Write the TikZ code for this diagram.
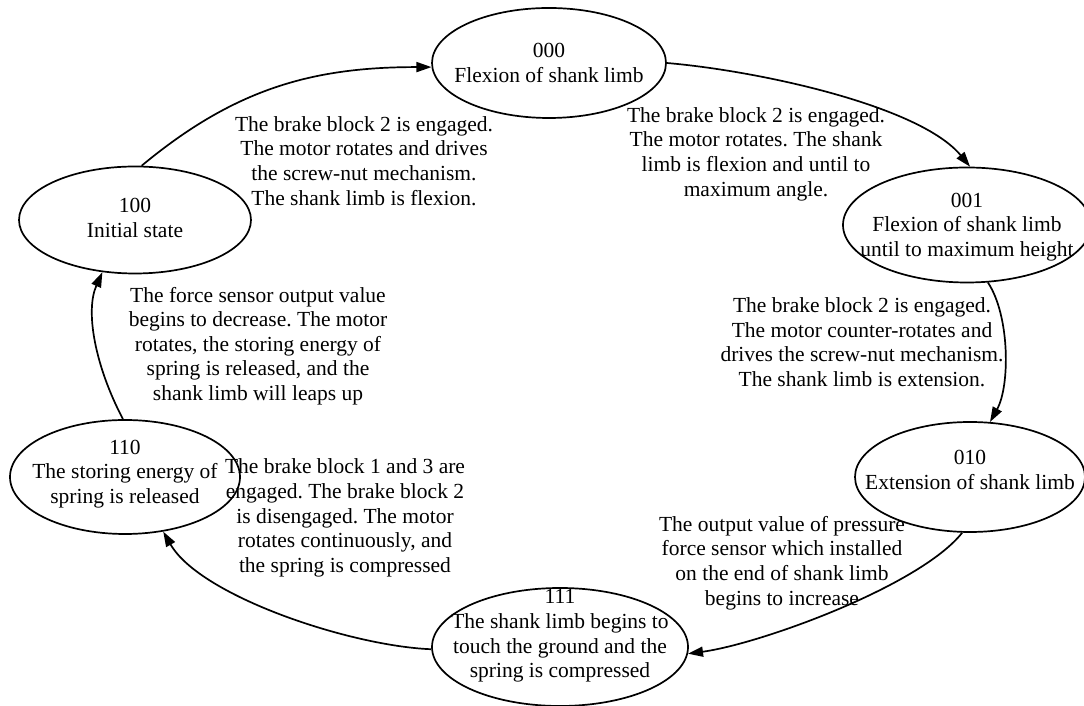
\documentclass[tikz,border=0pt]{standalone}
\usepackage{fontspec}
\setmainfont{Liberation Serif}
\usetikzlibrary{arrows.meta,shapes.geometric}
\begin{document}
\frenchspacing
\begin{tikzpicture}[x=1pt,y=1pt,
  state/.style={draw,ellipse,line width=1.7pt,inner sep=0pt},
  txt/.style={align=center,inner sep=0pt,font=\fontsize{21.5}{24.6}\selectfont},
  edge/.style={line width=1.7pt,-{Triangle[length=15pt,width=10pt]}}]
\useasboundingbox (0,0) rectangle (1084,706);
% states
\node[state,minimum width=234pt,minimum height=110pt] (s000) at (549,643) {};
\node[state,minimum width=248pt,minimum height=115pt] (s001) at (967,481) {};
\node[state,minimum width=230pt,minimum height=110pt] (s010) at (970,229) {};
\node[state,minimum width=256pt,minimum height=118pt] (s111) at (560,59) {};
\node[state,minimum width=230pt,minimum height=114pt] (s110) at (125,229) {};
\node[state,minimum width=232pt,minimum height=107pt] (s100) at (135,486) {};
\node[txt] (t000) at (549,643) {000\\Flexion of shank limb};
\node[txt] (t001) at (967,479) {001\\Flexion of shank limb\\until to maximum height};
\node[txt] (t010) at (970,236) {010\\Extension of shank limb};
\node[txt] (t111) at (560,70) {111\\The shank limb begins to\\touch the ground and the\\spring is compressed};
\node[txt] (t110) at (125,232) {110\\The storing energy of\\spring is released};
\node[txt] (t100) at (135,488) {100\\Initial state};
% edges
\draw[edge] (s100.83) .. controls (234,617) and (312,639) .. (s000.182);
\draw[edge] (s000.0) .. controls (760,635) and (920,600) .. (s001.87);
\draw[edge] (s001.-70) .. controls (1010,390) and (1010,320) .. (s010.70);
\draw[edge] (s010.-98) .. controls (920,120) and (760,62) .. (s111.-3);
\draw[edge] (s111.181) .. controls (350,60) and (200,110) .. (s110.-55);
\draw[edge] (s110.92) .. controls (95,340) and (85,395) .. (s100.-122);
% edge labels
\node[txt] (l1) at (364,545) {The brake block 2 is engaged.\\The motor rotates and drives\\the screw-nut mechanism.\\The shank limb is flexion.};
\node[txt] (l2) at (756,552) {The brake block 2 is engaged.\\The motor rotates. The shank\\limb is flexion and until to\\maximum angle.};
\node[txt] (l3) at (862,364) {The brake block 2 is engaged.\\The motor counter-rotates and\\drives the screw-nut mechanism.\\The shank limb is extension.};
\node[txt] (l4) at (782,143) {The output value of pressure\\force sensor which installed\\on the end of shank limb\\begins to increase};
\node[txt] (l5) at (345,188) {The brake block 1 and 3 are\\engaged. The brake block 2\\is disengaged. The motor\\rotates continuously, and\\the spring is compressed};
\node[txt] (l6) at (258,360) {The force sensor output value\\begins to decrease. The motor\\rotates, the storing energy of\\spring is released, and the\\shank limb will leaps up};
\end{tikzpicture}
\end{document}
